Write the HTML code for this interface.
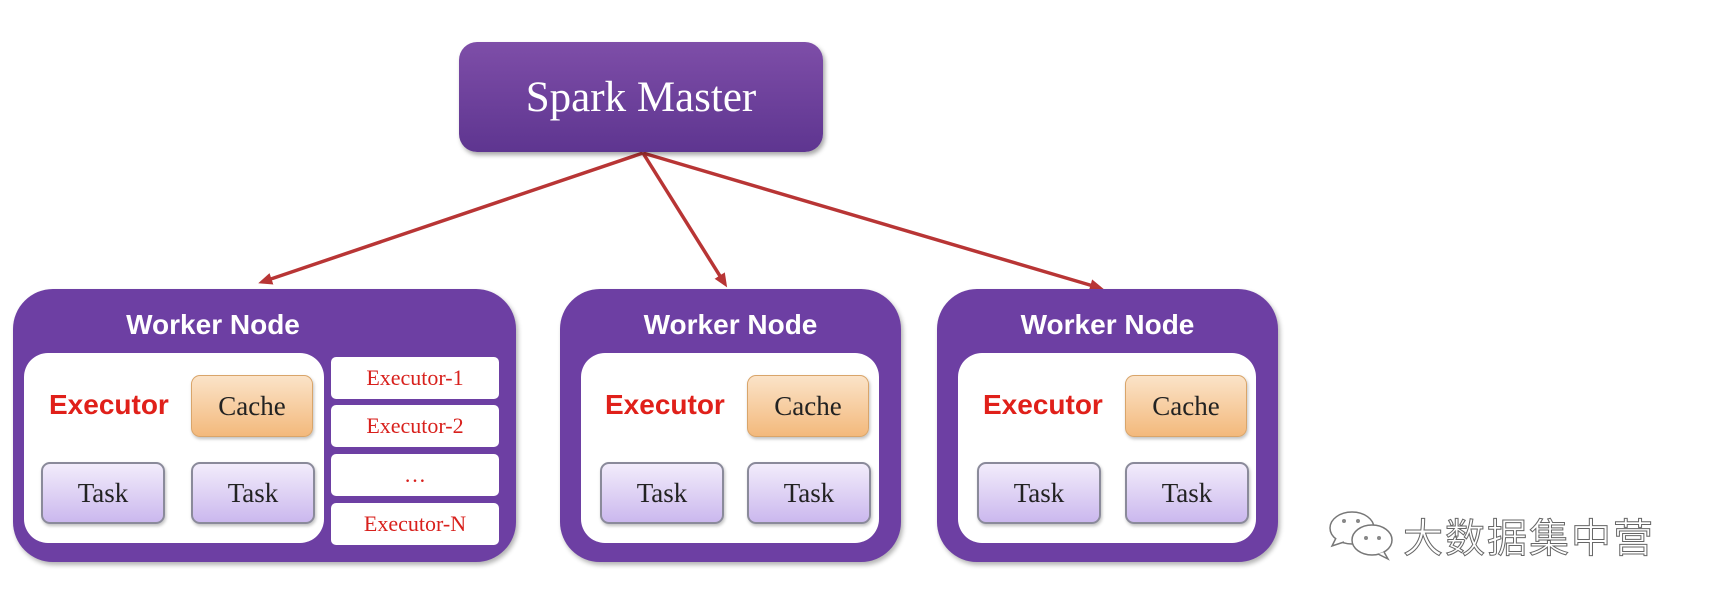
<!DOCTYPE html>
<html><head><meta charset="utf-8"><style>
body{margin:0;width:1712px;height:612px;background:#fff;position:relative;overflow:hidden;font-family:"Liberation Sans",sans-serif}
div{position:absolute;box-sizing:border-box}
.m{left:459px;top:42px;width:364px;height:110px;border-radius:18px;background:linear-gradient(#7e4ea8,#5e3590);box-shadow:2px 3px 5px rgba(0,0,0,.35);color:#fff;font-family:"Liberation Serif",serif;font-size:43px;display:flex;align-items:center;justify-content:center}
.w{top:289px;height:273px;border-radius:40px;background:#6d3fa3;box-shadow:2px 3px 5px rgba(0,0,0,.3)}
.t{top:20px;left:0;right:0;text-align:center;color:#fff;font-weight:bold;font-size:28px}
.in{top:64px;height:190px;background:#fff;border-radius:24px}
.ex{color:#e0201a;font-weight:bold;font-size:28px;top:100px}
.c{top:22px;width:122px;height:62px;border-radius:9px;background:linear-gradient(#fbe3c8,#f3b97c);border:1px solid #d9a56a;box-shadow:1px 2px 3px rgba(0,0,0,.25);font-family:"Liberation Serif",serif;font-size:27px;display:flex;align-items:center;justify-content:center;color:#222}
.k{top:109px;width:124px;height:62px;border-radius:9px;background:linear-gradient(#f2ecfb,#cbb8ee);border:2px solid #8a8a9a;box-shadow:1px 2px 3px rgba(0,0,0,.25);font-family:"Liberation Serif",serif;font-size:27px;display:flex;align-items:center;justify-content:center;color:#222}
.e{left:318px;width:168px;height:42px;background:#fff;border-radius:5px;color:#d8201c;font-family:"Liberation Serif",serif;font-size:22px;display:flex;align-items:center;justify-content:center}
</style></head><body>
<svg style="position:absolute;left:0;top:0" width="1712" height="612">
<defs><marker id="a" markerWidth="14" markerHeight="12" refX="10" refY="6" orient="auto" markerUnits="userSpaceOnUse"><path d="M0,0 L14,6 L0,12 z" fill="#b83535"/></marker></defs>
<g stroke="#b83535" stroke-width="3.5" fill="none">
<line x1="643" y1="153" x2="262" y2="282" marker-end="url(#a)"/>
<line x1="643" y1="153" x2="725" y2="284" marker-end="url(#a)"/>
<line x1="643" y1="153" x2="1100" y2="288" marker-end="url(#a)"/>
</g></svg>
<div class="m">Spark Master</div>

<div class="w" style="left:13px;width:503px">
<div class="t" style="right:103px">Worker Node</div>
<div class="in" style="left:11px;width:300px"></div>
<div class="ex" style="left:36px">Executor</div>
<div class="c" style="left:178px;top:86px">Cache</div>
<div class="k" style="left:28px;top:173px">Task</div>
<div class="k" style="left:178px;top:173px">Task</div>
<div class="e" style="top:68px">Executor-1</div>
<div class="e" style="top:116px">Executor-2</div>
<div class="e" style="top:165px">…</div>
<div class="e" style="top:214px">Executor-N</div>
</div>

<div class="w" style="left:560px;width:341px">
<div class="t">Worker Node</div>
<div class="in" style="left:21px;width:298px"></div>
<div class="ex" style="left:45px">Executor</div>
<div class="c" style="left:187px;top:86px">Cache</div>
<div class="k" style="left:40px;top:173px">Task</div>
<div class="k" style="left:187px;top:173px">Task</div>
</div>

<div class="w" style="left:937px;width:341px">
<div class="t">Worker Node</div>
<div class="in" style="left:21px;width:298px"></div>
<div class="ex" style="left:46px">Executor</div>
<div class="c" style="left:188px;top:86px">Cache</div>
<div class="k" style="left:40px;top:173px">Task</div>
<div class="k" style="left:188px;top:173px">Task</div>
</div>

<svg style="position:absolute;left:1328px;top:510px" width="72" height="52">
<g fill="#fff" stroke="#777" stroke-width="1.5">
<ellipse cx="24" cy="18" rx="22" ry="16"/><path d="M8,28 L4,36 L16,32"/>
<ellipse cx="44" cy="30" rx="20" ry="15"/><path d="M56,42 L60,49 L50,44"/>
</g><g fill="#888"><circle cx="16" cy="11" r="2"/><circle cx="30" cy="11" r="2"/><circle cx="38" cy="28" r="2"/><circle cx="51" cy="28" r="2"/></g></svg>
<div style="left:1403px;top:510px;font-family:'Noto Sans CJK SC',sans-serif;font-size:40px;color:#fff;-webkit-text-stroke:1px #666;letter-spacing:2px;line-height:50px">大数据集中营</div>
</body></html>
